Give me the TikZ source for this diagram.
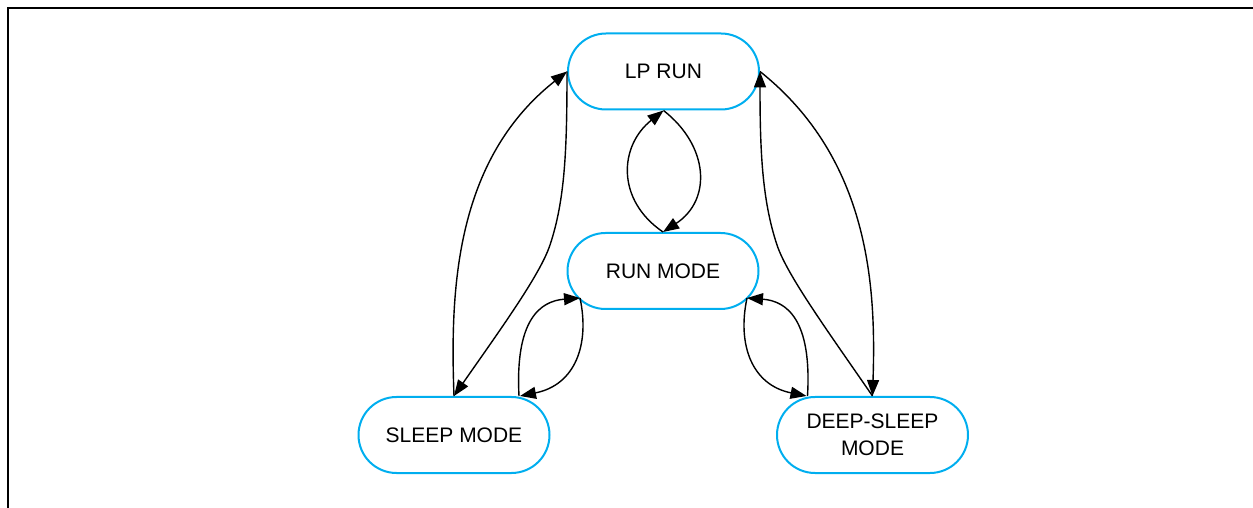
\documentclass[tikz,border=0pt]{standalone}
\usepackage{fontspec}
\setmainfont{Liberation Sans}
\usetikzlibrary{arrows.meta,calc,shapes.misc}
\definecolor{stateblue}{RGB}{0,174,239}
\tikzset{
  state/.style={rounded rectangle, draw=stateblue, line width=2bp,
    minimum width=191bp, minimum height=76bp, inner sep=0pt, align=center,
    font=\fontsize{21bp}{27bp}\selectfont},
  trans/.style={draw=black, line width=1.4bp, -{Triangle[length=16bp,width=12bp]}},
  frameline/.style={draw=black, line width=2bp}
}
\begin{document}
\begin{tikzpicture}[x=1bp,y=-1bp]
\useasboundingbox (0,0) rectangle (1253,508);
\coordinate (fa) at (8,508);
\coordinate (fb) at (8,8);
\coordinate (fc) at (1253,8);
\draw[frameline] (fa) -- (fb) -- (fc);

\node[state] (lp) at (663.5,71.5) {LP RUN};
\node[state] (run) at (663,271) {RUN MODE};
\node[state] (sleep) at (454,435) {SLEEP MODE};
\node[state] (deep) at (872.5,435) {DEEP-SLEEP\\MODE};

% LP RUN <-> RUN MODE
\draw[trans] (run.north) .. controls (616,200) and (619,146) .. (lp.south);
\draw[trans] (lp.south) .. controls (709,146) and (712,200) .. (run.north);

% LP RUN <-> SLEEP MODE
\draw[trans] (sleep.north) .. controls (450,290) and (455,160) .. (lp.west);
\draw[trans] (lp.west) .. controls (567,150) and (565,200) .. (550,245)
  .. controls (540,275) and (500,330) .. (sleep.north);

% LP RUN <-> DEEP-SLEEP MODE
\draw[trans] (lp.east) .. controls (871,160) and (876,290) .. (deep.north);
\draw[trans] (deep.north) .. controls (827,330) and (787,275) .. (777,245)
  .. controls (762,200) and (760,150) .. (lp.east);

% RUN MODE <-> SLEEP MODE
\draw[trans] ($(sleep.north)+(65,0)$) .. controls (515,320) and (540,301) .. ($(run.center)+(-83,27)$);
\draw[trans] ($(run.center)+(-83,27)$) .. controls (590,345) and (575,385) .. ($(sleep.north)+(66,0)$);

% RUN MODE <-> DEEP-SLEEP MODE
\draw[trans] ($(deep.north)+(-65,0)$) .. controls (812,320) and (787,301) .. ($(run.center)+(84,27)$);
\draw[trans] ($(run.center)+(84,27)$) .. controls (737,345) and (752,385) .. ($(deep.north)+(-66,0)$);
\end{tikzpicture}
\end{document}
